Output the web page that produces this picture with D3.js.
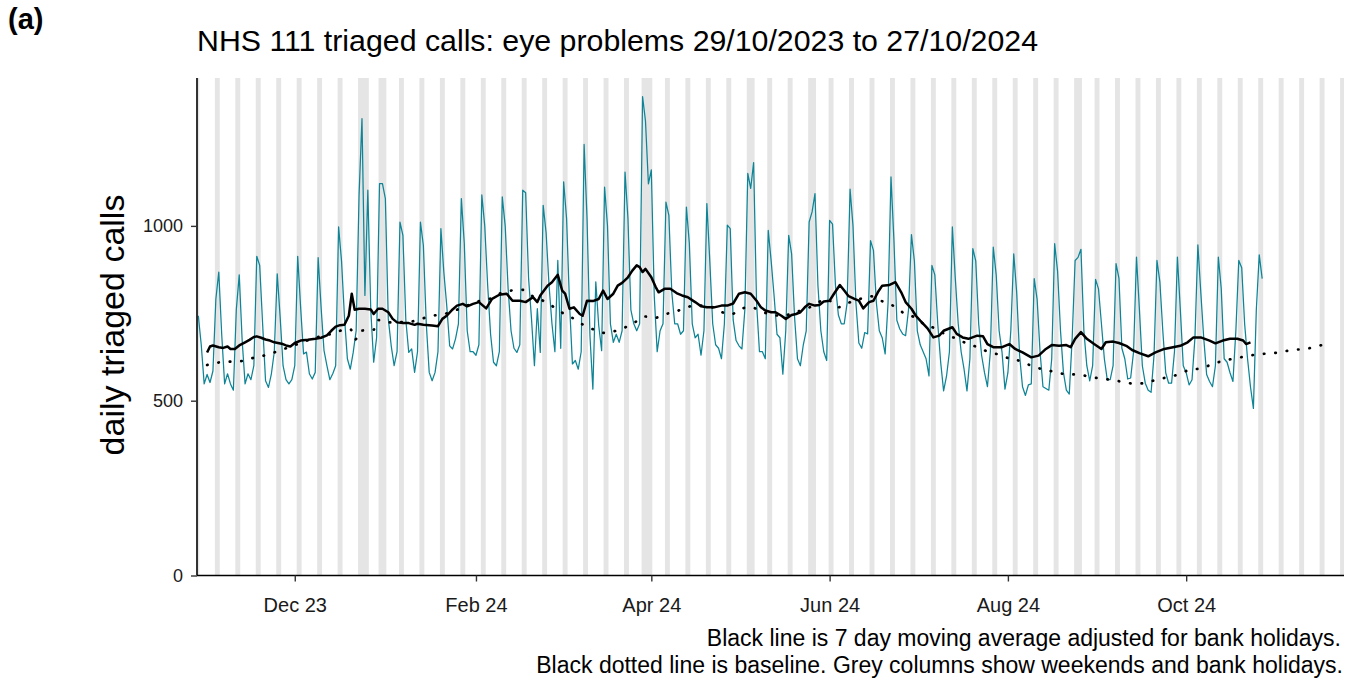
<!DOCTYPE html>
<html>
<head>
<meta charset="utf-8">
<script src="https://cdn.jsdelivr.net/npm/d3@7"></script>
<style>
  body { margin: 0; background: #fff; }
  svg { display: block; font-family: "Liberation Sans", Arial, sans-serif; }
</style>
</head>
<body>
<svg id="chart" width="1359" height="681"></svg>
<script>
/* Daten */
const startDate = "2023-10-29";
const endDate   = "2024-11-24";

// daily triaged calls, one value per day from 29/10/2023, rows are weeks Sun..Sat
const dailyCalls = [
  743, 660, 548, 575, 552, 585, 790,
  868, 690, 548, 577, 548, 530, 760,
  860, 672, 548, 577, 560, 600, 913,
  887, 720, 557, 538, 577, 640, 863,
  739, 600, 560, 548, 560, 600, 913,
  768, 634, 639, 577, 562, 581, 909,
  768, 644, 600, 560, 577, 600, 997,
  900, 740, 620, 590, 638, 700, 1088,
  1307, 801, 1102, 760, 610, 680, 1121,
  1121, 1078, 734, 657, 600, 640, 1011,
  973, 731, 638, 648, 581, 640, 1011,
  944, 720, 581, 557, 581, 640, 992,
  868, 772, 657, 648, 677, 720, 1078,
  950, 700, 640, 640, 630, 660, 1089,
  1000, 830, 690, 610, 600, 640, 1083,
  1000, 820, 700, 650, 638, 660, 1102,
  1095, 850, 734, 600, 763, 638, 1059,
  980, 830, 720, 640, 901, 650, 1126,
  1021, 780, 605, 615, 590, 640, 1233,
  1021, 686, 533, 840, 715, 643, 1111,
  1000, 720, 667, 690, 667, 700, 1154,
  1021, 760, 720, 700, 720, 1370, 1300,
  1120, 1160, 800, 640, 700, 720, 1068,
  1030, 810, 720, 720, 690, 700, 1054,
  950, 720, 680, 690, 630, 700, 1064,
  900, 720, 660, 650, 620, 720, 1002,
  992, 731, 672, 657, 648, 760, 1150,
  1107, 1181, 780, 640, 640, 620, 987,
  900, 800, 690, 680, 576, 700, 973,
  920, 740, 620, 600, 660, 700, 1011,
  1040, 1092, 830, 700, 640, 615, 1016,
  1005, 830, 745, 720, 720, 780, 1105,
  1000, 780, 665, 650, 695, 691, 958,
  930, 780, 700, 680, 634, 780, 1140,
  960, 730, 705, 691, 686, 760, 975,
  900, 700, 660, 640, 620, 571, 887,
  860, 720, 610, 528, 570, 640, 997,
  850, 720, 640, 590, 528, 620, 935,
  900, 720, 630, 580, 540, 640, 939,
  860, 700, 638, 533, 580, 700, 920,
  810, 630, 540, 515, 545, 548, 849,
  790, 640, 540, 535, 530, 620, 949,
  870, 700, 581, 530, 519, 680, 901,
  910, 933, 700, 600, 557, 600, 847,
  820, 720, 620, 560, 560, 600, 892,
  850, 650, 620, 562, 565, 640, 911,
  760, 600, 550, 530, 524, 630, 901,
  840, 700, 580, 550, 550, 640, 911,
  760, 600, 580, 545, 560, 680, 946,
  810, 680, 575, 555, 540, 600, 911,
  820, 620, 610, 580, 555, 700, 901,
  880, 720, 620, 540, 478, 760, 917,
  849
];

// 7 day moving average, read at day offsets from startDate
const maDay = [3, 4, 5, 7, 8.5, 10, 11, 12.5, 14, 16, 17.5, 19, 20, 21.5, 23, 24.5, 26, 28.5, 30, 31.5,
  33, 35, 37.5, 40, 42, 44, 45.5, 47, 48.5, 50, 51.5, 52.5, 53.5, 55, 57, 59, 60, 61.5, 63, 65,
  66.5, 68, 70, 72, 74, 75, 77, 80, 82, 83.5, 85, 87, 88.5, 90.5, 92, 94, 96, 98.5, 100.5, 103,
  105.5, 107.5, 110, 112, 114.5, 116, 117, 119.5, 121, 123, 124.5, 125.5, 127, 128.5, 130.5, 131.5, 133, 135, 137, 138.5,
  140, 142, 143.5, 145, 147, 148.5, 150, 151, 152, 153, 155, 156.5, 157.5, 159.5, 161.5, 164, 165.5, 167.5, 170, 172,
  174, 176.5, 179, 181, 183, 185, 187, 189, 191, 192.5, 194, 196, 197.5, 199.5, 201, 203, 204.5, 206, 207.5, 209,
  211, 212.5, 214, 216, 217.5, 219.5, 221, 222.5, 224.5, 226, 227.5, 229.5, 231, 232.5, 234, 236.5, 238.5, 240.5, 242, 244,
  245.5, 247, 249.5, 251.5, 253.5, 255, 258, 259.5, 261.5, 263.5, 266.5, 268.5, 270, 272, 275, 277.5, 279.5, 282, 285, 287.5,
  290, 292, 294.5, 297, 298.5, 300, 302, 304, 306.5, 309, 310.5, 313, 315, 317.5, 319.5, 322, 325, 327.5, 330.5, 333.5,
  336, 338.5, 340.5, 343, 346, 348, 350.5, 353, 355.5, 357.5, 358.5, 360];
const maCalls = [638, 655, 658, 653, 651, 655, 648, 648, 658, 667, 674, 682, 684, 680, 675, 672, 667, 663, 658, 655,
  665, 672, 674, 677, 680, 687, 700, 712, 716, 717, 743, 806, 760, 763, 763, 761, 748, 763, 763, 753,
  734, 724, 722, 722, 717, 720, 717, 715, 713, 734, 743, 761, 772, 777, 770, 777, 782, 764, 791, 803,
  806, 786, 786, 782, 796, 782, 801, 829, 839, 860, 815, 806, 763, 767, 748, 743, 786, 785, 791, 815,
  791, 806, 829, 837, 853, 872, 887, 882, 868, 877, 853, 825, 810, 820, 820, 806, 801, 796, 782, 770,
  767, 767, 772, 772, 778, 806, 810, 806, 786, 767, 758, 753, 753, 743, 734, 745, 748, 753, 767, 777,
  772, 774, 784, 786, 806, 831, 815, 799, 791, 786, 764, 782, 786, 810, 829, 831, 839, 810, 782, 763,
  743, 729, 707, 681, 686, 700, 710, 691, 681, 677, 686, 684, 662, 653, 653, 662, 648, 638, 624, 629,
  648, 659, 657, 659, 653, 677, 696, 677, 662, 648, 667, 669, 665, 657, 645, 636, 627, 638, 648, 653,
  657, 667, 681, 681, 672, 664, 672, 677, 677, 672, 662, 667];

// baseline, read at day offsets from startDate
const baseDay = [3, 7.6, 11.4, 15.4, 19.4, 23.4, 27, 31, 35, 40, 45, 49.9, 52, 53.7, 55.5, 60, 61.3, 64.5, 72.5, 76.2,
  80.2, 84.1, 90, 95.6, 99.6, 103, 107, 111, 114.4, 118.4, 121.8, 125.2, 128.6, 131.7, 135.5, 138.9, 142.9, 146.9, 150.3, 152.6,
  156.3, 159.4, 162.9, 166.9, 170.8, 174.8, 178.6, 182.3, 186, 189.1, 192.9, 196.3, 200.2, 203.9, 207.7, 211.3, 215, 218.8, 222.5, 226.4,
  229.9, 234.1, 238.1, 241.3, 244.9, 248.1, 252, 255.4, 259.2, 262.6, 266.6, 270.2, 274.3, 278, 282, 285.6, 289.7, 293.6, 297.7, 301.1,
  304.6, 308.2, 311.9, 316.2, 320, 323.8, 327.7, 331.6, 335.7, 339.4, 343.2, 347, 350.8, 354.6, 358.7, 362.6, 366.4, 370.7, 374.7, 378.5,
  382.4, 386.4];
const baseCalls = [602, 610, 612, 614, 624, 631, 641, 653, 665, 680, 690, 703, 705, 675, 700, 703, 731, 724, 726, 734,
  743, 748, 765, 784, 791, 806, 815, 817, 799, 784, 767, 748, 734, 717, 703, 694, 700, 713, 729, 741,
  737, 747, 753, 767, 772, 770, 755, 747, 764, 767, 755, 745, 743, 753, 761, 777, 791, 767, 780, 791,
  799, 784, 770, 751, 739, 720, 707, 691, 678, 665, 653, 640, 631, 619, 612, 597, 589, 581, 575, 575,
  569, 564, 560, 554, 549, 550, 560, 567, 576, 589, 592, 605, 614, 621, 627, 633, 635, 639, 646, 647,
  656, 661];

const bankHolidays = ["2023-12-25", "2023-12-26", "2024-01-01", "2024-03-29", "2024-04-01",
                      "2024-05-06", "2024-05-27", "2024-08-26"];
const tickDates  = ["2023-12-01", "2024-02-01", "2024-04-01", "2024-06-01", "2024-08-01", "2024-10-01"];
const yTicks     = [0, 500, 1000];

/* Optionen */
const svg = d3.select("#chart");
const margin = { left: 197, right: 15, top: 78, bottom: 106 };
const width  = +svg.attr("width");
const height = +svg.attr("height");
const teal   = "#0f8496";
const parse  = d3.utcParse("%Y-%m-%d");
const day0   = parse(startDate);

const dayToDate = (d) => new Date(day0.getTime() + d * 864e5);

const x = d3.scaleUtc()
  .domain([dayToDate(-0.45), parse(endDate)])
  .range([margin.left, width - margin.right]);

const y = d3.scaleLinear()
  .domain([0, 1423])
  .range([height - margin.bottom + 0.5, margin.top]);

svg.append("defs").append("clipPath")
  .attr("id", "plotclip")
  .append("rect")
  .attr("x", margin.left)
  .attr("y", margin.top)
  .attr("width", width - margin.right - margin.left)
  .attr("height", height - margin.bottom - margin.top);

/* Grey columns: weekends and bank holidays */
const bh = new Set(bankHolidays);
const nDays = d3.utcDay.count(day0, parse(endDate));
let runs = [], current = null;
for (let i = 0; i <= nDays; i++) {
  let dt = d3.utcDay.offset(day0, i);
  let off = dt.getUTCDay() === 0 || dt.getUTCDay() === 6 || bh.has(d3.utcFormat("%Y-%m-%d")(dt));
  if (off) {
    if (current && current.last === i - 1) current.last = i;
    else { current = { first: i, last: i }; runs.push(current); }
  }
}

svg.append("g")
  .attr("clip-path", "url(#plotclip)")
  .selectAll("rect")
  .data(runs)
  .enter().append("rect")
    .attr("x", (d) => x(dayToDate(d.first - 0.34)))
    .attr("y", margin.top)
    .attr("width", (d) => x(dayToDate(d.last + 0.34)) - x(dayToDate(d.first - 0.34)))
    .attr("height", y(0) - margin.top)
    .attr("fill", "#e5e5e5");

/* Lines */
const daily = dailyCalls.map((v, i) => ({ date: d3.utcDay.offset(day0, i), value: v }));
const ma    = maDay.map((d, i) => ({ date: dayToDate(d), value: maCalls[i] }));
const base  = baseDay.map((d, i) => ({ date: dayToDate(d), value: baseCalls[i] }));

const line = d3.line()
  .x((d) => x(d.date))
  .y((d) => y(d.value));

const plot = svg.append("g").attr("clip-path", "url(#plotclip)");

plot.append("path")
  .datum(daily)
  .attr("d", line)
  .attr("fill", "none")
  .attr("stroke", teal)
  .attr("stroke-width", 1.25)
  .attr("stroke-linejoin", "round");

plot.append("path")
  .datum(base)
  .attr("d", line.curve(d3.curveMonotoneX))
  .attr("fill", "none")
  .attr("stroke", "#000")
  .attr("stroke-width", 2.7)
  .attr("stroke-linecap", "round")
  .attr("stroke-dasharray", "0.5,11");

plot.append("path")
  .datum(ma)
  .attr("d", line.curve(d3.curveLinear))
  .attr("fill", "none")
  .attr("stroke", "#000")
  .attr("stroke-width", 2.5)
  .attr("stroke-linejoin", "round");

/* Axes */
const xAxis = svg.append("g")
  .attr("transform", "translate(0," + y(0) + ")")
  .call(d3.axisBottom(x)
    .tickValues(tickDates.map(parse))
    .tickFormat(d3.utcFormat("%b %y"))
    .tickSizeOuter(0)
    .tickSize(6)
    .tickPadding(16));

const yAxis = svg.append("g")
  .attr("transform", "translate(" + margin.left + ",0)")
  .call(d3.axisLeft(y)
    .tickValues(yTicks)
    .tickFormat(d3.format("d"))
    .tickSizeOuter(0)
    .tickSize(6)
    .tickPadding(8));

[xAxis, yAxis].forEach((g) => {
  g.select(".domain").attr("stroke", "#000").attr("stroke-width", 1.6);
  g.selectAll(".tick line").attr("stroke", "#333").attr("stroke-width", 1.4);
  g.selectAll(".tick text").attr("fill", "#1a1a1a").style("font-size", "20px");
});
yAxis.selectAll(".tick text").style("font-size", "18px");
xAxis.select(".domain").attr("d", "M" + margin.left + ",0H" + (width - margin.right));
yAxis.select(".domain").attr("d", "M0," + y(0) + "V" + margin.top);

/* Texte */
svg.append("text")
  .attr("x", 8).attr("y", 29)
  .style("font-size", "29px").style("font-weight", "bold")
  .text("(a)");

svg.append("text")
  .attr("x", 197).attr("y", 51)
  .style("font-size", "30.3px")
  .text("NHS 111 triaged calls: eye problems 29/10/2023 to 27/10/2024");

svg.append("text")
  .attr("transform", "translate(124,325) rotate(-90)")
  .attr("text-anchor", "middle")
  .style("font-size", "34px")
  .text("daily triaged calls");

svg.append("text")
  .attr("x", 1341).attr("y", 646)
  .attr("text-anchor", "end")
  .style("font-size", "23px")
  .text("Black line is 7 day moving average adjusted for bank holidays.");

svg.append("text")
  .attr("x", 1343).attr("y", 673)
  .attr("text-anchor", "end")
  .style("font-size", "23px")
  .text("Black dotted line is baseline. Grey columns show weekends and bank holidays.");
</script>
</body>
</html>
